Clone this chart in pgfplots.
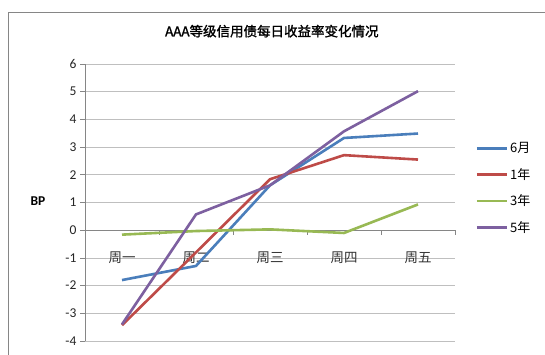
\documentclass[border=0pt]{standalone}
\usepackage{pgfplots}
\pgfplotsset{compat=1.18}
\usepackage{fontspec}
\setmainfont{Carlito}
\newfontfamily\cjk{Noto Sans CJK SC}
\newfontfamily\cjkb{Noto Sans CJK SC}[FakeBold=1.5]
\definecolor{cA}{HTML}{4A7EBB}
\definecolor{cB}{HTML}{BE4B48}
\definecolor{cC}{HTML}{98B954}
\definecolor{cD}{HTML}{7D60A0}
\definecolor{gridc}{HTML}{BFBFBF}
\definecolor{axc}{HTML}{868686}
\begin{document}
\begin{tikzpicture}[x=1pt,y=1pt]
\useasboundingbox (0,0) rectangle (545,354);
\fill[white] (0,0) rectangle (545,354);
\draw[axc, line width=0.9pt] (8,-2) rectangle (548,342);
\begin{axis}[
  at={(85pt,13pt)}, anchor=south west,
  scale only axis, width=370pt, height=277pt,
  xmin=-0.5, xmax=4.5, ymin=-4, ymax=6,
  axis x line*=middle, axis y line*=left,
  axis line style={axc, line width=0.7pt, -},
  ytick={-4,-3,...,6},
  xtick={0,1,2,3,4},
  xticklabels={周一,周二,周三,周四,周五},
  xtick style={draw=none},
  ytick style={axc, line width=0.7pt},
  tick align=outside,
  major tick length=5pt,
  ymajorgrids, grid style={gridc, line width=0.7pt},
  xticklabel style={font=\cjk\fontsize{13.5}{13.5}\selectfont, text=black!80, yshift=-13pt},
  yticklabel style={font=\fontsize{13.5}{14}\selectfont, text=black!85},
  /pgf/number format/assume math mode=true,
  ylabel={\textbf{BP}},
  ylabel style={rotate=-90, font=\fontsize{13.5}{13.5}\selectfont, at={(axis description cs:-0.127,0.505)}, anchor=center},
  title={\cjkb\fontsize{13.5}{13.5}\selectfont AAA等级信用债每日收益率变化情况},
  title style={at={(axis description cs:0.505,1.097)}, anchor=center},
  legend style={at={(axis description cs:1.055,0.725)}, anchor=north west, draw=none, fill=none,
    font=\cjk\fontsize{13}{13}\selectfont, row sep=10pt, inner sep=0pt},
  legend cell align=left,
  legend image code/.code={\draw[#1, line width=2.6pt] (0pt,0pt) -- (30pt,0pt);},
  every axis plot/.append style={line width=2.6pt, no markers, line join=round},
  clip=false,
]
\draw[axc, line width=0.7pt] (axis cs:0.5,0) -- ([yshift=-5pt]axis cs:0.5,0);
\draw[axc, line width=0.7pt] (axis cs:1.5,0) -- ([yshift=-5pt]axis cs:1.5,0);
\draw[axc, line width=0.7pt] (axis cs:2.5,0) -- ([yshift=-5pt]axis cs:2.5,0);
\draw[axc, line width=0.7pt] (axis cs:3.5,0) -- ([yshift=-5pt]axis cs:3.5,0);
\draw[axc, line width=0.7pt] (axis cs:4.5,0) -- ([yshift=-5pt]axis cs:4.5,0);
\addplot[cA] coordinates {(0,-1.8) (1,-1.29) (2,1.62) (3,3.33) (4,3.49)};
\addlegendentry{6月}
\addplot[cB] coordinates {(0,-3.43) (1,-0.8) (2,1.84) (3,2.71) (4,2.55)};
\addlegendentry{1年}
\addplot[cC] coordinates {(0,-0.16) (1,-0.03) (2,0.03) (3,-0.1) (4,0.93)};
\addlegendentry{3年}
\addplot[cD] coordinates {(0,-3.4) (1,0.57) (2,1.62) (3,3.57) (4,5.02)};
\addlegendentry{5年}
\end{axis}
\end{tikzpicture}
\end{document}
